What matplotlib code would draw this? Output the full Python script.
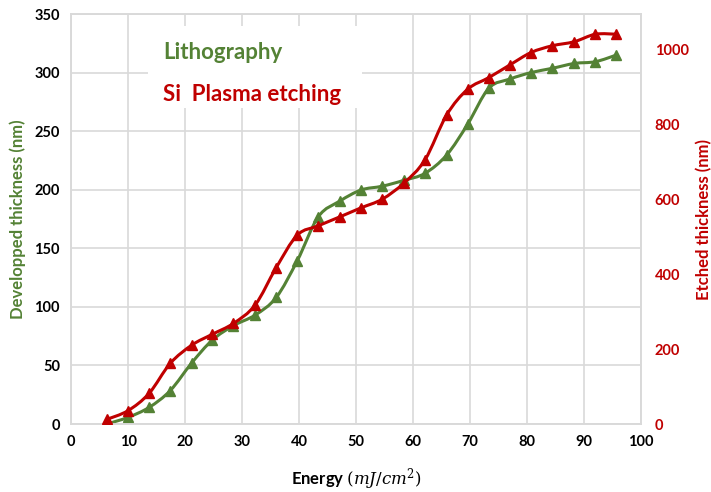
import numpy as np
import matplotlib
matplotlib.use("Agg")
import matplotlib.pyplot as plt
from matplotlib.path import Path
from matplotlib.patches import PathPatch, Rectangle

energy = [6.3, 10.0, 13.7, 17.4, 21.2, 24.8, 28.5, 32.3, 36.0, 39.7, 43.4, 47.2, 50.9,
          54.6, 58.4, 62.1, 65.9, 69.6, 73.3, 77.0, 80.7, 84.4, 88.3, 92.0, 95.7]
litho = [0, 5.7, 14.2, 28.5, 52.3, 71.7, 84, 93, 108, 139.4, 177, 190.4, 199.8,
         203, 208, 214, 229.6, 256, 286.6, 294.5, 300, 303.6, 307.8, 309.3, 315]
etch = [12.5, 35.7, 82, 162, 211, 240, 269, 318, 418, 505, 530, 554, 578,
        601, 644, 706, 826, 895, 926, 960, 993, 1011, 1022, 1042, 1042]
series_names = ["Lithography", "Si  Plasma etching"]

green = "#548235"
red = "#C00000"
grid = "#D9D9D9"

plt.rcParams['font.family'] = ['Lato', 'DejaVu Sans']
plt.rcParams['mathtext.fontset'] = 'dejavuserif'


def smooth_path(x, y):
    x = np.asarray(x, float); y = np.asarray(y, float)
    n = len(x)
    verts = [(x[0], y[0])]
    codes = [Path.MOVETO]
    t = 1.0 / 6.0
    for i in range(n - 1):
        p0 = i - 1 if i > 0 else i
        p3 = i + 2 if i + 2 < n else i + 1
        c1 = (x[i] + (x[i + 1] - x[p0]) * t, y[i] + (y[i + 1] - y[p0]) * t)
        c2 = (x[i + 1] - (x[p3] - x[i]) * t, y[i + 1] - (y[p3] - y[i]) * t)
        verts += [c1, c2, (x[i + 1], y[i + 1])]
        codes += [Path.CURVE4] * 3
    return Path(verts, codes)


fig = plt.figure(figsize=(7.11, 4.92), dpi=100)
ax = fig.add_axes([0.0999, 0.1382, 0.8016, 0.8333])
ax2 = ax.twinx()

ax.set_xlim(0, 100)
ax.set_ylim(0, 350)
ax2.set_ylim(0, 1096)

ax.set_xticks(np.arange(0, 101, 10))
ax.set_yticks(np.arange(0, 351, 50))
ax2.set_yticks(np.arange(0, 1001, 200))
ax.grid(True, color=grid, linewidth=1.2)
ax.set_axisbelow(True)

for a in (ax, ax2):
    for s in a.spines.values():
        s.set_color(grid)
        s.set_linewidth(1.2)
    a.tick_params(length=0)

ax.tick_params(axis='both', labelsize=10.5, pad=8)
ax2.tick_params(axis='y', labelsize=10.5, labelcolor=red, pad=10)
for lab in ax.get_xticklabels() + ax.get_yticklabels():
    lab.set_fontweight('bold')
for lab in ax2.get_yticklabels():
    lab.set_fontweight('bold')

# green on left axis
ax.add_patch(PathPatch(smooth_path(energy, litho), fill=False, edgecolor=green, lw=2.2, zorder=3))
ax.plot(energy, litho, linestyle='none', marker='^', color=green, markersize=7, zorder=4)
# red on right axis
ax2.add_patch(PathPatch(smooth_path(energy, etch), fill=False, edgecolor=red, lw=2.2, zorder=3))
ax2.plot(energy, etch, linestyle='none', marker='^', color=red, markersize=7, zorder=4)

ax.set_ylabel("Developped thickness (nm)", color=green, fontsize=12, fontweight='bold', labelpad=6)
ax2.set_ylabel("Etched thickness (nm)", color=red, fontsize=12, fontweight='bold', labelpad=5)
ax.set_xlabel(r"Energy $(mJ/cm^2)$", fontsize=12, fontweight='bold', labelpad=12)

# legend-like text block with white background
ax2.add_patch(Rectangle((0.135, 0.77), 0.375, 0.20, transform=ax2.transAxes,
                        facecolor='white', edgecolor='none', zorder=5))
ax2.text(0.162, 0.905, series_names[0], transform=ax2.transAxes, color=green,
         fontsize=16, fontweight='bold', va='center', ha='left', zorder=6)
ax2.text(0.162, 0.803, series_names[1], transform=ax2.transAxes, color=red,
         fontsize=16, fontweight='bold', va='center', ha='left', zorder=6)

fig.savefig("out.png", dpi=100)
